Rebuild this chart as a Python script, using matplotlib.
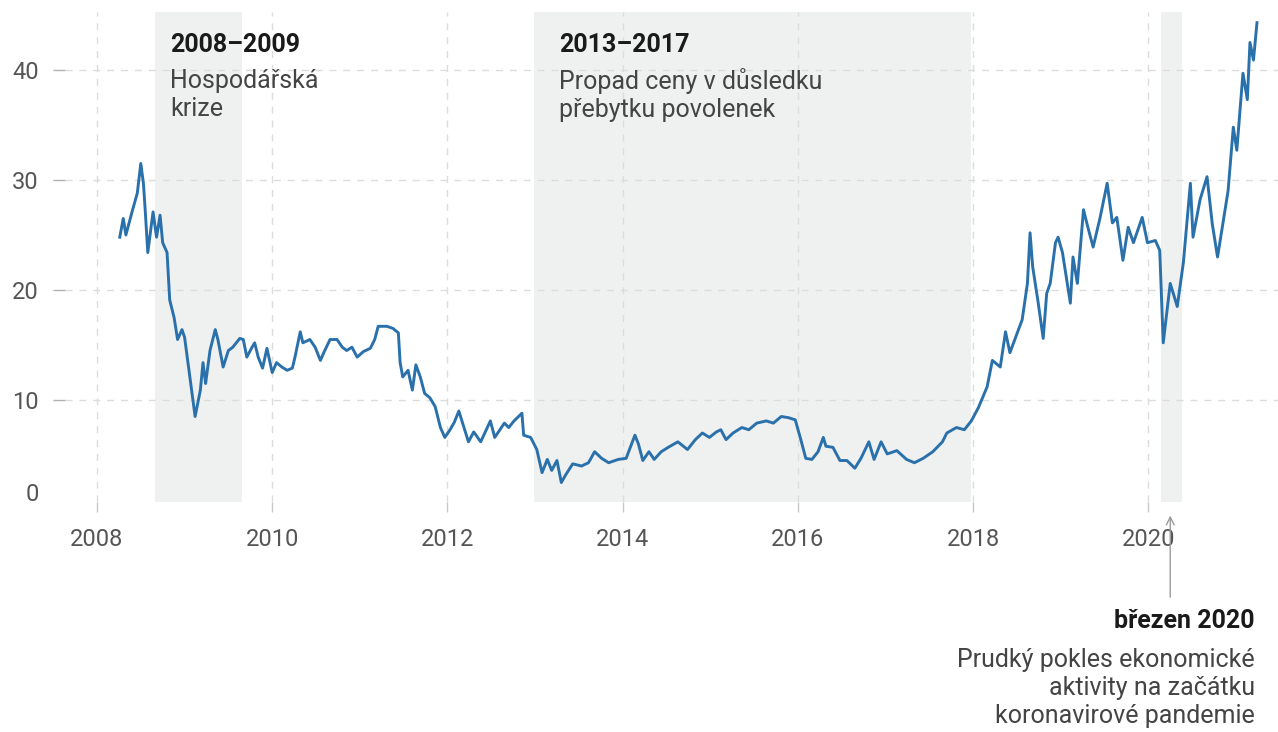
import matplotlib
matplotlib.use("Agg")
import matplotlib.pyplot as plt

# cena povolenky (EUR), datum jako desetinny rok
years = [
    2008.26, 2008.30, 2008.33, 2008.40, 2008.46, 2008.50, 2008.53, 2008.55, 2008.58, 2008.64,
    2008.68, 2008.72, 2008.75, 2008.80, 2008.83, 2008.88, 2008.92, 2008.97, 2009.00, 2009.06,
    2009.12, 2009.18, 2009.21, 2009.24, 2009.29, 2009.35, 2009.38, 2009.44, 2009.50, 2009.55,
    2009.63, 2009.67, 2009.71, 2009.77, 2009.80, 2009.84, 2009.89, 2009.94, 2010.00, 2010.05,
    2010.11, 2010.17, 2010.23, 2010.26, 2010.32, 2010.35, 2010.43, 2010.49, 2010.55, 2010.60,
    2010.66, 2010.74, 2010.80, 2010.85, 2010.91, 2010.97, 2011.04, 2011.12, 2011.17, 2011.21,
    2011.31, 2011.38, 2011.44, 2011.46, 2011.49, 2011.55, 2011.60, 2011.64, 2011.69, 2011.74,
    2011.80, 2011.86, 2011.92, 2011.97, 2012.03, 2012.08, 2012.13, 2012.24, 2012.30, 2012.38,
    2012.49, 2012.54, 2012.65, 2012.70, 2012.76, 2012.85, 2012.87, 2012.95, 2013.02, 2013.08,
    2013.14, 2013.19, 2013.25, 2013.30, 2013.35, 2013.43, 2013.53, 2013.61, 2013.68, 2013.76,
    2013.84, 2013.95, 2014.04, 2014.14, 2014.18, 2014.23, 2014.30, 2014.36, 2014.44, 2014.52,
    2014.63, 2014.74, 2014.83, 2014.91, 2014.99, 2015.07, 2015.12, 2015.18, 2015.26, 2015.36,
    2015.44, 2015.53, 2015.64, 2015.72, 2015.81, 2015.89, 2015.97, 2016.03, 2016.09, 2016.16,
    2016.23, 2016.29, 2016.32, 2016.40, 2016.48, 2016.56, 2016.65, 2016.72, 2016.81, 2016.87,
    2016.95, 2017.02, 2017.13, 2017.24, 2017.33, 2017.43, 2017.54, 2017.65, 2017.70, 2017.81,
    2017.90, 2017.98, 2018.06, 2018.16, 2018.22, 2018.31, 2018.37, 2018.42, 2018.49, 2018.56,
    2018.62, 2018.65, 2018.68, 2018.74, 2018.80, 2018.84, 2018.88, 2018.94, 2018.97, 2019.02,
    2019.11, 2019.14, 2019.19, 2019.26, 2019.31, 2019.37, 2019.45, 2019.53, 2019.59, 2019.64,
    2019.71, 2019.77, 2019.83, 2019.93, 2019.99, 2020.08, 2020.13, 2020.17, 2020.25, 2020.33,
    2020.40, 2020.48, 2020.51, 2020.59, 2020.67, 2020.73, 2020.79, 2020.84, 2020.91, 2020.97,
    2021.01, 2021.08, 2021.13, 2021.16, 2021.20, 2021.24,
]
prices = [
    24.8, 26.5, 25.0, 27.1, 28.8, 31.5, 29.7, 27.3, 23.4, 27.1,
    24.8, 26.8, 24.3, 23.4, 19.1, 17.5, 15.5, 16.4, 15.7, 12.1,
    8.5, 10.9, 13.4, 11.5, 14.5, 16.4, 15.5, 13.0, 14.5, 14.8,
    15.6, 15.5, 13.9, 14.8, 15.2, 13.9, 12.9, 14.7, 12.5, 13.4,
    13.0, 12.7, 12.9, 13.9, 16.2, 15.2, 15.5, 14.8, 13.6, 14.5,
    15.5, 15.5, 14.8, 14.5, 14.8, 13.9, 14.4, 14.7, 15.5, 16.7,
    16.7, 16.5, 16.1, 13.4, 12.1, 12.7, 10.9, 13.2, 12.1, 10.6,
    10.2, 9.4, 7.5, 6.6, 7.3, 8.0, 9.0, 6.2, 7.1, 6.2,
    8.1, 6.6, 7.9, 7.5, 8.1, 8.8, 6.8, 6.6, 5.5, 3.4,
    4.6, 3.6, 4.5, 2.5, 3.2, 4.2, 4.0, 4.3, 5.3, 4.7,
    4.3, 4.6, 4.7, 6.8, 6.0, 4.5, 5.3, 4.6, 5.3, 5.7,
    6.2, 5.5, 6.4, 7.0, 6.6, 7.1, 7.3, 6.4, 7.0, 7.5,
    7.3, 7.9, 8.1, 7.9, 8.5, 8.4, 8.2, 6.5, 4.7, 4.6,
    5.3, 6.6, 5.8, 5.7, 4.5, 4.5, 3.8, 4.7, 6.2, 4.6,
    6.2, 5.1, 5.4, 4.6, 4.3, 4.7, 5.3, 6.2, 7.0, 7.5,
    7.3, 8.1, 9.3, 11.2, 13.6, 13.0, 16.2, 14.3, 15.8, 17.3,
    20.6, 25.2, 22.1, 19.0, 15.6, 19.7, 20.6, 24.3, 24.8, 23.4,
    18.8, 23.0, 20.6, 27.3, 25.7, 23.9, 26.6, 29.7, 26.1, 26.6,
    22.7, 25.7, 24.3, 26.6, 24.3, 24.5, 23.6, 15.2, 20.6, 18.5,
    22.5, 29.7, 24.8, 28.2, 30.3, 26.0, 23.0, 25.5, 29.0, 34.8,
    32.7, 39.7, 37.3, 42.5, 40.9, 44.3,
]

x_ticks = [2008, 2010, 2012, 2014, 2016, 2018, 2020]
y_ticks = [10, 20, 30, 40]

# zvyraznena obdobi
spans = [(2008.66, 2009.66), (2012.99, 2017.98), (2020.14, 2020.38)]
span_titles = ["2008–2009", "2013–2017"]
span_texts = ["Hospodářská\nkrize", "Propad ceny v důsledku\npřebytku povolenek"]
text_offsets = [11, 18]

LINE_COLOR = "#2a71ab"
SHADE = "#eff0f0"
GRID = "#dcdcdc"
FS = 18

plt.rcParams["font.family"] = ["Roboto", "DejaVu Sans"]

W, H = 1278, 732
fig = plt.figure(figsize=(W / 100, H / 100), dpi=100)
ax = fig.add_axes([65 / W, 230 / H, (W - 65) / W, 490 / H])

for a, b in spans:
    ax.axvspan(a, b, color=SHADE, lw=0, zorder=0)

ax.plot(years, prices, color=LINE_COLOR, lw=2.1, zorder=3)

ax.set_xlim(2007.635, 2021.48)
ax.set_ylim(0.73, 45.27)
ax.set_xticks(x_ticks)
ax.set_yticks(y_ticks)
ax.set_xticklabels([str(v) for v in x_ticks])
ax.grid(True, color=GRID, lw=1, ls=(0, (5, 5)), zorder=1)
for s in ax.spines.values():
    s.set_visible(False)
ax.tick_params(axis="x", length=7, width=1, color="#c8c8c8", pad=12,
               labelsize=17, labelcolor="#555555")
ax.tick_params(axis="y", length=9, width=1, color="#b0b0b0", pad=10,
               labelsize=17, labelcolor="#555555")
# nula bez mrizky a bez carky
ax.annotate("0", xy=(0, 1.4), xycoords=("axes fraction", "data"),
            xytext=(-19, 0), textcoords="offset points",
            fontsize=17, color="#555555", ha="right", va="center")

for (a, b), title, body, off in zip(spans[:2], span_titles, span_texts, text_offsets):
    ax.annotate(title, xy=(a, 42.3), xycoords="data", xytext=(off, 0),
                textcoords="offset points", fontsize=FS, fontweight="bold",
                color="#1a1a1a", va="center", ha="left")
    ax.annotate(body, xy=(a, 37.7), xycoords="data", xytext=(off, 0),
                textcoords="offset points", fontsize=FS, color="#444444",
                va="center", ha="left", linespacing=1.2)

# sipka k breznu 2020
ax.annotate("", xy=(2020.25, -0.022), xycoords=("data", "axes fraction"),
            xytext=(2020.25, -0.2), textcoords=("data", "axes fraction"),
            arrowprops=dict(arrowstyle="->", color="#9a9a9a", lw=1,
                            mutation_scale=14), annotation_clip=False)
fig.text(1255 / W, (H - 621) / H, "březen 2020", fontsize=FS, fontweight="bold",
         color="#1a1a1a", ha="right", va="center")
fig.text(1255 / W, (H - 688) / H,
         "Prudký pokles ekonomické\naktivity na začátku\nkoronavirové pandemie",
         fontsize=FS, color="#444444", ha="right", va="center", linespacing=1.2,
         multialignment="right")

fig.savefig("out.png", dpi=100)
